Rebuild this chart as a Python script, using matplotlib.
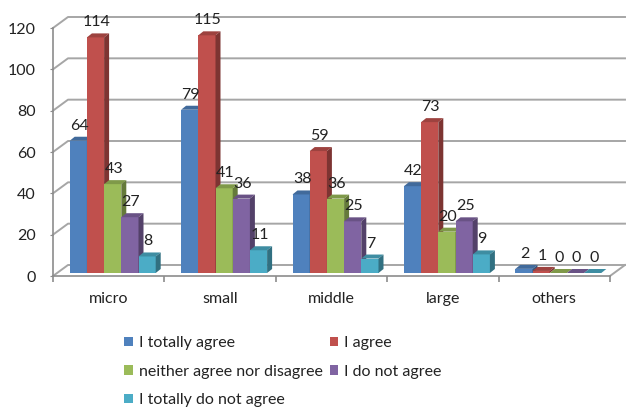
import matplotlib.pyplot as plt
from matplotlib.patches import Polygon
from matplotlib.lines import Line2D
import matplotlib.colors as mcolors

plt.rcParams['font.family'] = ['Lato', 'DejaVu Sans']

categories = ['micro', 'small', 'middle', 'large', 'others']
series_names = ['I totally agree', 'I agree', 'neither agree nor disagree',
                'I do not agree', 'I totally do not agree']
totally_agree = [64, 79, 38, 42, 2]
agree = [114, 115, 59, 73, 1]
neither = [43, 41, 36, 20, 0]
not_agree = [27, 36, 25, 25, 0]
totally_not_agree = [8, 11, 7, 9, 0]
series_values = [totally_agree, agree, neither, not_agree, totally_not_agree]
colors = ['#4F81BD', '#C0504D', '#9BBB59', '#8064A2', '#4BACC6']
y_ticks = [0, 20, 40, 60, 80, 100, 120]


def shade(c, f):
    r, g, b = mcolors.to_rgb(c)
    return (r * f, g * f, b * f)


FS = 11.5
W, H = 626, 408
fig = plt.figure(figsize=(W / 100, H / 100), dpi=100)
# front plane of the pseudo-3d box: x 53..610 px, y 276..28 px
ax = fig.add_axes([53 / W, (H - 276) / H, 557 / W, 248 / H])
ax.set_xlim(0, 5)
ax.set_ylim(0, 120)

px_x = 5 / 557.0      # data units per pixel
px_y = 120 / 248.0
grid_c = '#A6A6A6'

# back wall offset and bar offset
bx, by = 15 * px_x, 11 * px_y
ox, oy = 4 * px_x, 3 * px_y
dx, dy = 5 * px_x, 4 * px_y
bar_w = 17.2 * px_x
gap = (1 - 5 * bar_w) / 2

# walls / gridlines
for v in y_ticks:
    ax.add_line(Line2D([0, bx, 5 + bx], [v, v + by, v + by], color=grid_c,
                       lw=1.4, clip_on=False, zorder=1))
ax.add_line(Line2D([5, 5 + bx], [0, by], color=grid_c, lw=1.4,
                   clip_on=False, zorder=1))

# bars with fake depth
for i, cat in enumerate(categories):
    for j, vals in enumerate(series_values):
        v = vals[i]
        x0 = i + gap + j * bar_w + ox
        y0 = oy
        z = 10 + j
        ax.add_patch(Polygon([[x0, y0], [x0 + bar_w, y0], [x0 + bar_w, y0 + v], [x0, y0 + v]],
                             closed=True, fc=colors[j], ec='none', zorder=z, clip_on=False))
        ax.add_patch(Polygon([[x0, y0 + v], [x0 + bar_w, y0 + v],
                              [x0 + bar_w + dx, y0 + v + dy], [x0 + dx, y0 + v + dy]],
                             closed=True, fc=shade(colors[j], 0.82), ec='none', zorder=z, clip_on=False))
        ax.add_patch(Polygon([[x0 + bar_w, y0], [x0 + bar_w + dx, y0 + dy],
                              [x0 + bar_w + dx, y0 + v + dy], [x0 + bar_w, y0 + v]],
                             closed=True, fc=shade(colors[j], 0.65), ec='none', zorder=z, clip_on=False))
        ax.annotate(str(v), (x0 + bar_w / 2 + 1 * px_x, y0 + v), xytext=(0, 10.8),
                    textcoords='offset points', ha='center', va='center',
                    fontsize=FS, color='#222222', zorder=30, annotation_clip=False)

for s in ['top', 'right']:
    ax.spines[s].set_visible(False)
for s in ['left', 'bottom']:
    ax.spines[s].set_color('#8C8C8C')
    ax.spines[s].set_linewidth(1.2)
ax.set_yticks(y_ticks)
ax.set_yticklabels([str(t) for t in y_ticks])
ax.tick_params(axis='y', length=2.5, color='#8C8C8C', pad=10, labelsize=FS,
               labelcolor='#222222')
ax.set_xticks([i + 0.5 for i in range(5)])
ax.set_xticklabels(categories)
ax.set_xticks(range(6), minor=True)
ax.tick_params(axis='x', which='major', length=0, pad=11.5, labelsize=FS,
               labelcolor='#222222')
ax.tick_params(axis='x', which='minor', length=4.3, color='#8C8C8C', width=1.2)
ax.set_facecolor('none')

handles = [plt.Rectangle((0, 0), 1, 1, fc=c, ec='none') for c in colors]
order = [0, 2, 4, 1, 3]
fig.legend([handles[k] for k in order], [series_names[k] for k in order],
           ncol=2, loc='upper left', bbox_to_anchor=(110 / W, 1 - 322 / H),
           frameon=False, fontsize=FS, handlelength=0.52, handleheight=0.52,
           handletextpad=0.38, columnspacing=0.45, labelspacing=0.9,
           labelcolor='#222222')

fig.savefig('out.png', dpi=100)
